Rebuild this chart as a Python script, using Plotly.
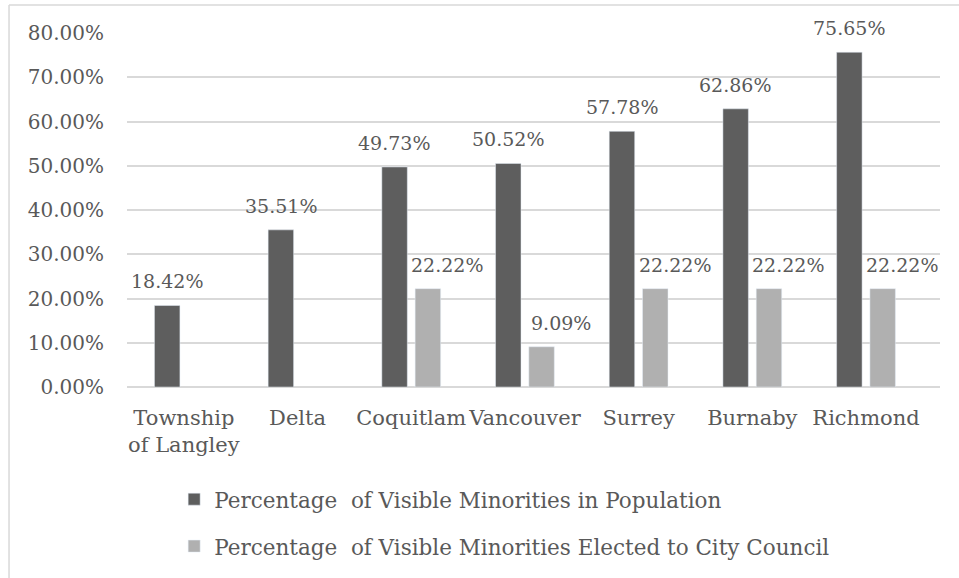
import plotly.graph_objects as go

# City-level share of visible minorities vs. share on city council
cities = ["Township<br>of Langley", "Delta", "Coquitlam", "Vancouver",
          "Surrey", "Burnaby", "Richmond"]
population_pct = [18.42, 35.51, 49.73, 50.52, 57.78, 62.86, 75.65]
council_pct = [None, None, 22.22, 9.09, 22.22, 22.22, 22.22]

series_names = [
    "Percentage  of Visible Minorities in Population",
    "Percentage  of Visible Minorities Elected to City Council",
]
y_ticks = [0, 10, 20, 30, 40, 50, 60, 70, 80]

FONT = "DejaVu Serif"
TEXT = "#595959"
DARK = "#5e5e5e"
LIGHT = "#b0b0b0"

fig = go.Figure()
fig.add_trace(go.Bar(x=cities, y=population_pct, name=series_names[0],
                     marker=dict(color=DARK), legendgroup="a"))
fig.add_trace(go.Bar(x=cities, y=council_pct, name=series_names[1],
                     marker=dict(color=LIGHT), legendgroup="b"))

# value labels above each bar
label_font = dict(family=FONT, size=19, color=TEXT)
annotations = []
for i, v in enumerate(population_pct):
    annotations.append(dict(x=i, y=v, xref="x", yref="y", text=f"{v:.2f}%",
                            showarrow=False, yshift=24, xshift=-17,
                            font=label_font))
for i, v in enumerate(council_pct):
    if v is None:
        continue
    annotations.append(dict(x=i, y=v, xref="x", yref="y", text=f"{v:.2f}%",
                            showarrow=False, yshift=24, xshift=36,
                            font=label_font))

fig.update_layout(
    width=959, height=578,
    margin=dict(l=127, r=19, t=33, b=191, autoexpand=False),
    paper_bgcolor="white", plot_bgcolor="white",
    barmode="group", bargap=0.414, bargroupgap=0.235,
    font=dict(family=FONT, size=21, color=TEXT),
    showlegend=True,
    legend=dict(orientation="v", x=0.058, xanchor="left", y=-0.259, yanchor="top",
                tracegroupgap=16, font=dict(family=FONT, size=21.5, color=TEXT),
                bgcolor="rgba(0,0,0,0)"),
    annotations=annotations,
    shapes=[
        dict(type="line", xref="paper", yref="paper", x0=-0.1451, x1=1.05,
             y0=1.079, y1=1.079, line=dict(color="#d9d9d9", width=1.5)),
        dict(type="line", xref="paper", yref="paper", x0=-0.1451, x1=-0.1451,
             y0=1.079, y1=-0.7, line=dict(color="#d9d9d9", width=1.5)),
    ],
)
fig.update_xaxes(showgrid=False, showline=False, ticks="", tickangle=0,
                 automargin=False,
                 tickfont=dict(family=FONT, size=21, color=TEXT),
                 ticklabelstandoff=16)
fig.update_yaxes(range=[0, 80], tickvals=y_ticks,
                 ticktext=[f"{t:.2f}%" for t in y_ticks],
                 showgrid=True, gridcolor="#d9d9d9", gridwidth=1.5,
                 zeroline=True, zerolinecolor="#d9d9d9", zerolinewidth=1.5,
                 ticklabelstandoff=22, automargin=False,
                 tickfont=dict(family=FONT, size=20, color=TEXT))

fig.write_html("out.html")
